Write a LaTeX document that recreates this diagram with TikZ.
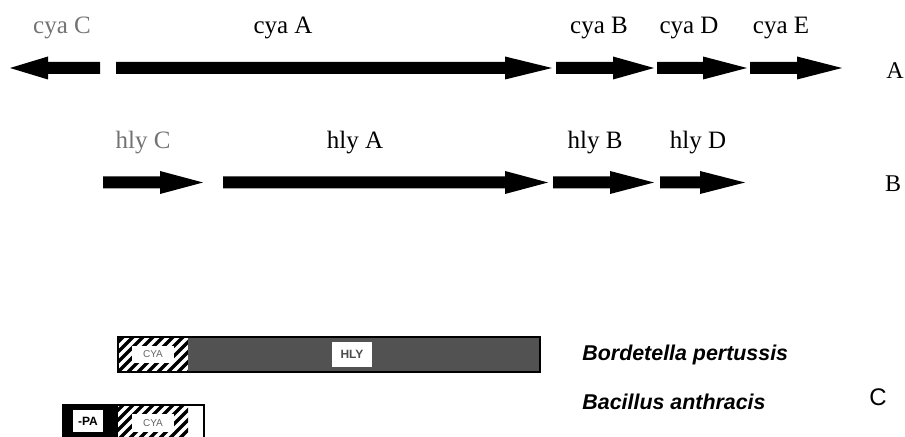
\documentclass[tikz,border=0pt]{standalone}
\usepackage{fontspec}
\setmainfont{Liberation Serif}
\setsansfont{Liberation Sans}
\newcommand\genearrow[4]{%
  \fill[black] (#1,#4-6) -- (#2,#4-6) -- (#2,#4-11.5) -- (#3,#4) -- (#2,#4+11.5) -- (#2,#4+6) -- (#1,#4+6) -- cycle;}
\newcommand\hatchbox[4]{%
  \begin{scope}
    \clip (#1,#2) rectangle (#3,#4);
    \fill[white] (#1,#2) rectangle (#3,#4);
    \foreach \k in {-60,-50,...,220} {
      \draw[line width=1.6pt] (#1+\k,#4) -- (#1+\k+60,#4-60);
    }
  \end{scope}}
\begin{document}
\begin{tikzpicture}[x=0.5pt,y=-0.5pt,
  genelbl/.style={font=\fontsize{12.5}{14}\selectfont, inner sep=0pt},
  faded/.style={text=black!55},
  rowlbl/.style={font=\fontsize{12}{14}\selectfont, inner sep=0pt},
  species/.style={font=\sffamily\bfseries\itshape\fontsize{10.7}{12}\selectfont, inner sep=0pt, anchor=west},
  tag/.style={fill=white, inner sep=0pt, font=\sffamily\fontsize{5}{6}\selectfont}]
\useasboundingbox (0,0) rectangle (905,437);
\clip (0,0) rectangle (905,437);

% Row A
\genearrow{100}{48}{10}{68}
\genearrow{116}{505}{552}{68}
\genearrow{556}{613}{654}{68}
\genearrow{657}{703}{747}{68}
\genearrow{750}{797}{842}{68}
\node[genelbl,faded] (cyaC) at (62,28) {cya C};
\node[genelbl] (cyaA) at (283,28) {cya A};
\node[genelbl] (cyaB) at (599,28) {cya B};
\node[genelbl] (cyaD) at (689,28) {cya D};
\node[genelbl] (cyaE) at (781,28) {cya E};
\node[rowlbl] (labA) at (895,71) {A};

% Row B
\genearrow{103}{160}{203}{182.5}
\genearrow{223}{505}{548}{182.5}
\genearrow{553}{610}{654}{182.5}
\genearrow{660}{700}{745}{182.5}
\node[genelbl,faded] (hlyC) at (143,143) {hly C};
\node[genelbl] (hlyA) at (355,143) {hly A};
\node[genelbl] (hlyB) at (595,143) {hly B};
\node[genelbl] (hlyD) at (698,143) {hly D};
\node[rowlbl] (labB) at (893,184) {B};

% Row C : Bordetella
\hatchbox{118}{337}{188}{372}
\fill[black!68] (188,337) rectangle (540,372);
\draw[line width=0.8pt] (118,337) rectangle (540,372);
\fill[white] (132,346) rectangle (174,363);
\node[tag,text=black!60] (cya1) at (153,354.5) {CYA};
\fill[white] (332,342) rectangle (372,367);
\node[tag,font=\sffamily\bfseries\fontsize{6}{7}\selectfont,text=black!70] (hly1) at (352,354.5) {HLY};
\node[species] (bord) at (582,355) {Bordetella pertussis};

% Row C : Bacillus
\fill[black] (63,405) rectangle (118,450);
\hatchbox{118}{405}{188}{450}
\draw[line width=0.8pt] (63,405) rectangle (204,450);
\fill[white] (132,414) rectangle (174,432);
\node[tag,text=black!60] (cya2) at (153,423) {CYA};
\fill[white] (73,410) rectangle (103,432);
\node[tag,font=\sffamily\bfseries\fontsize{6}{7}\selectfont] (pa) at (88,421) {-PA};
\node[species] (bac) at (582,402) {Bacillus anthracis};
\node[font=\sffamily\fontsize{12}{14}\selectfont, inner sep=0pt] (labC) at (878,397) {C};
\end{tikzpicture}
\end{document}
